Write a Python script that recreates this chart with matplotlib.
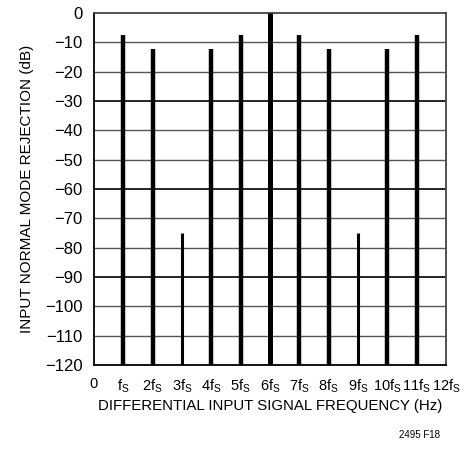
import matplotlib.pyplot as plt
from matplotlib import font_manager

# datos
harmonics = [1, 2, 3, 4, 5, 6, 7, 8, 9, 10, 11]
rejection_db = [-7.5, -12.4, -75, -12.4, -7.5, 0, -7.5, -12.4, -75, -12.4, -7.5]
bar_widths = [3.2, 3.2, 2.2, 3.2, 3.2, 3.6, 3.2, 3.2, 2.2, 3.2, 3.2]
x_ticks = list(range(13))
x_labels = ["0", "f$_\\mathregular{S}$"] + ["%df$_\\mathregular{S}$" % k for k in range(2, 13)]
y_ticks = list(range(0, -121, -10))
y_labels = ["0"] + ["\u2212%d" % -v for v in y_ticks[1:]]

names = {f.name for f in font_manager.fontManager.ttflist}
fam = "Liberation Sans Narrow" if "Liberation Sans Narrow" in names else "Liberation Sans"
plt.rcParams["font.family"] = [fam, "DejaVu Sans"]
plt.rcParams["mathtext.fontset"] = "custom"
plt.rcParams["mathtext.rm"] = fam

fig = plt.figure(figsize=(4.66, 4.49), dpi=100)
ax = fig.add_axes([94 / 466, 1 - 365 / 449, 352 / 466, 352 / 449])

for y in y_ticks[1:-1]:
    dark = (y % 30 == 0)
    ax.axhline(y, color="black" if dark else "#555555", lw=1.2 if dark else 1.0, zorder=1)

for x, v, w in zip(harmonics, rejection_db, bar_widths):
    ax.vlines(x, -120, v, color="black", lw=w, zorder=3)

ax.set_xlim(0, 12)
ax.set_ylim(-120, 0)
ax.set_xticks(x_ticks)
ax.set_xticklabels(x_labels, fontsize=10.5)
ax.set_yticks(y_ticks)
ax.set_yticklabels(y_labels, fontsize=12)
ax.tick_params(axis="y", length=0, pad=8)
ax.tick_params(axis="x", length=0, pad=9)
for s in ax.spines.values():
    s.set_linewidth(1.3)
ax.spines["top"].set_color("#444444")
ax.spines["right"].set_color("#444444")

ax.set_xlabel("DIFFERENTIAL INPUT SIGNAL FREQUENCY (Hz)", fontsize=10.8, labelpad=3)
ax.set_ylabel("INPUT NORMAL MODE REJECTION (dB)", fontsize=11, labelpad=8)
fig.text(440 / 466, 1 - 435 / 449, "2495 F18", fontsize=7, ha="right", va="center")

fig.savefig("out.png", dpi=100)
